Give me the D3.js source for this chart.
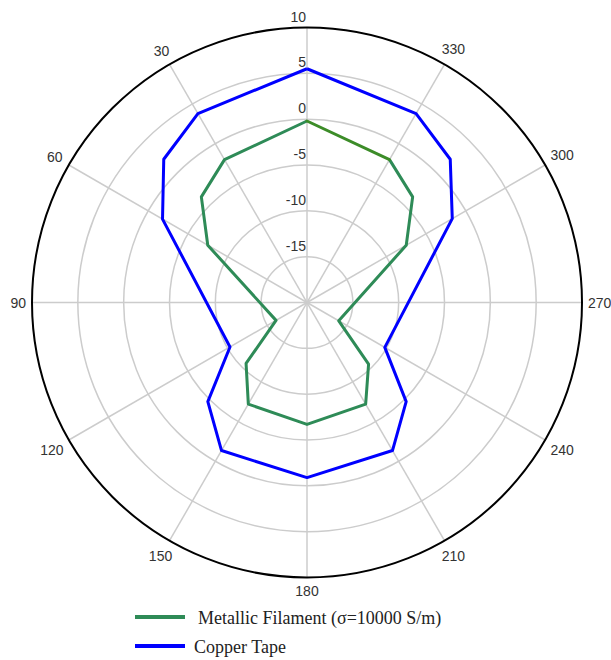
<!DOCTYPE html>
<html>
<head>
<meta charset="utf-8">
<script src="https://cdn.jsdelivr.net/npm/d3@7"></script>
<style>
  html, body { margin: 0; padding: 0; background: #fff; }
  svg { display: block; }
</style>
</head>
<body>
<svg id="chart" width="611" height="660"></svg>
<script>
// ---- data ----
const filamentAngles = [0, 30, 45, 60, 120, 135, 150, 180, 210, 225, 240, 300, 315, 330];
const filamentValues = [-0.2, -2.0, -3.7, -7.5, -16.1, -10.6, -7.2, -6.7, -7.2, -10.5, -16.0, -7.5, -3.7, -2.0];
const copperAngles = [0, 30, 45, 60, 120, 135, 150, 180, 210, 225, 240, 300, 315, 330];
const copperValues = [5.5, 3.8, 2.1, -1.8, -10.3, -4.7, -1.35, -0.9, -1.35, -4.7, -10.2, -1.7, 2.1, 3.8];
const radialTicks = [-15, -10, -5, 0, 5, 10];
const angleTicks = [30, 60, 90, 120, 150, 180, 210, 240, 270, 300, 330];
const spokeAngles = [0, 30, 60, 90, 120, 150, 180, 210, 240, 270, 300, 330];
const seriesNames = ["Metallic Filament (\u03c3=10000 S/m)", "Copper Tape"];
const seriesColors = ["#2e8b57", "#0000ff"];

// ---- layout ----
const svg = d3.select("#chart");
const cx = 307, cy = 302.5, R = 275;
const r = d3.scaleLinear().domain([-20, 10]).range([0, R]);
const toRad = d => d * Math.PI / 180;
// angle measured counter-clockwise from top
const px = (a, v) => cx - r(v) * Math.sin(toRad(a));
const py = (a, v) => cy - r(v) * Math.cos(toRad(a));

const g = svg.append("g");

// grid circles
g.selectAll("circle.grid").data(radialTicks.filter(t => t < 10)).enter()
  .append("circle")
  .attr("cx", cx).attr("cy", cy).attr("r", d => r(d))
  .attr("fill", "none").attr("stroke", "#cccccc").attr("stroke-width", 1.5);

// spokes
g.selectAll("line.spoke").data(spokeAngles).enter()
  .append("line")
  .attr("x1", cx).attr("y1", cy)
  .attr("x2", d => px(d, 10)).attr("y2", d => py(d, 10))
  .attr("stroke", "#cccccc").attr("stroke-width", 1.5);

// outer circle
g.append("circle")
  .attr("cx", cx).attr("cy", cy).attr("r", r(10))
  .attr("fill", "none").attr("stroke", "#000").attr("stroke-width", 2);

// radial tick labels
g.selectAll("text.rt").data(radialTicks).enter()
  .append("text")
  .attr("x", cx - 1).attr("y", d => cy - r(d) - 6)
  .attr("text-anchor", "end")
  .attr("font-family", "Liberation Sans, Arial, sans-serif")
  .attr("font-size", 14).attr("fill", "#333")
  .text(d => d);

// angle labels (placed just outside the circle, offset by half their box)
g.selectAll("text.at").data(angleTicks).enter()
  .append("text")
  .attr("text-anchor", "middle")
  .attr("dominant-baseline", "central")
  .attr("font-family", "Liberation Sans, Arial, sans-serif")
  .attr("font-size", 14).attr("fill", "#333")
  .text(d => d)
  .each(function(d) {
    const w = this.getComputedTextLength();
    const h = 14;
    const s = Math.abs(Math.sin(toRad(d))), c = Math.abs(Math.cos(toRad(d)));
    const rr = R + 6 + (w / 2) * s + (h / 2) * c;
    d3.select(this)
      .attr("x", cx - rr * Math.sin(toRad(d)))
      .attr("y", cy - rr * Math.cos(toRad(d)));
  });

// series
const line = d3.line().x(d => px(d[0], d[1])).y(d => py(d[0], d[1]));

function pairs(angles, values) { return angles.map((a, i) => [a, values[i]]); }
const fil = pairs(filamentAngles, filamentValues);
const cop = pairs(copperAngles, copperValues);

// copper (closed)
g.append("path")
  .attr("d", line(cop.concat([cop[0]])))
  .attr("fill", "none").attr("stroke", seriesColors[1])
  .attr("stroke-width", 3).attr("stroke-linejoin", "round");

// filament (open) plus darker closing segment
g.append("path")
  .attr("d", line(fil))
  .attr("fill", "none").attr("stroke", seriesColors[0])
  .attr("stroke-width", 3).attr("stroke-linejoin", "round");
g.append("path")
  .attr("d", line([fil[fil.length - 1], fil[0]]))
  .attr("fill", "none").attr("stroke", "#3c8c28")
  .attr("stroke-width", 3).attr("stroke-linecap", "round");

// legend
const legend = svg.append("g");
const legY = [617, 646];
seriesNames.forEach((name, i) => {
  legend.append("line")
    .attr("x1", 135).attr("x2", 185)
    .attr("y1", legY[i]).attr("y2", legY[i])
    .attr("stroke", seriesColors[i]).attr("stroke-width", 4);
  legend.append("text")
    .attr("x", i === 0 ? 198 : 194).attr("y", legY[i] + 7)
    .attr("font-family", "Liberation Serif, Times New Roman, serif")
    .attr("font-size", 18).attr("fill", "#222")
    .text(name);
});
</script>
</body>
</html>
